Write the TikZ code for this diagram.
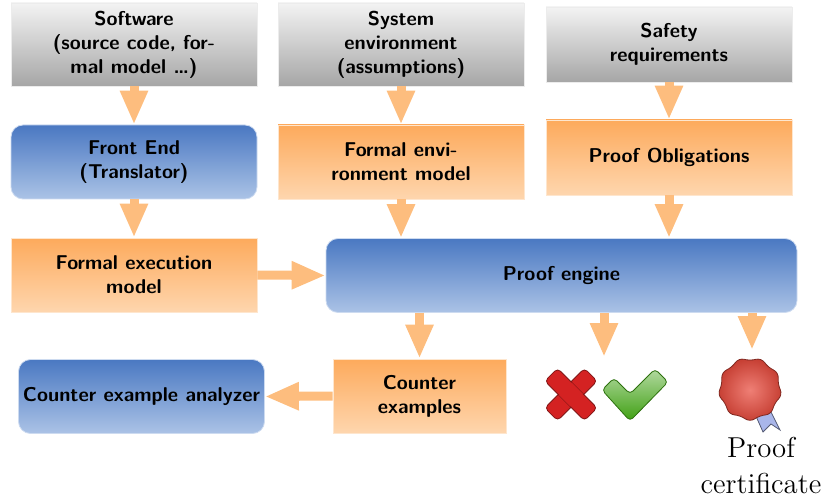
\documentclass[tikz,border=0pt]{standalone}
\usepackage{tikz}
\usetikzlibrary{arrows.meta, shapes.geometric}

\definecolor{graytop}{HTML}{F3F3F3}
\definecolor{graybot}{HTML}{A6A6A6}
\definecolor{orangetop}{HTML}{FDAA5C}
\definecolor{orangebot}{HTML}{FED6AE}
\definecolor{bluetop}{HTML}{4A78C2}
\definecolor{bluebot}{HTML}{ABC3E6}
\definecolor{flowc}{HTML}{FDBD7E}
\definecolor{xred}{HTML}{D42222}
\definecolor{okgreen}{HTML}{3FA012}
\definecolor{sealred}{HTML}{E8483A}
\definecolor{ribbon}{HTML}{A9B6EA}

\begin{document}
\begin{tikzpicture}[x=0.5pt, y=-0.5pt,
    inbox/.style={draw=gray!15, top color=graytop, bottom color=graybot, font=\sffamily\bfseries, align=center, minimum width=123pt, minimum height=41.5pt, inner sep=0pt},
    model/.style={draw=orangebot!60, top color=orangetop, bottom color=orangebot, font=\sffamily\bfseries, align=center, minimum width=123pt, minimum height=37pt, inner sep=0pt},
    tool/.style={draw=bluebot!60, top color=bluetop, bottom color=bluebot, rounded corners=6pt, font=\sffamily\bfseries, align=center, minimum width=123pt, minimum height=37pt, inner sep=0pt},
    flow/.style={draw=flowc, line width=4.5pt, -{Triangle[length=17pt, width=13pt]}}]
  \useasboundingbox (0,0) rectangle (823,502);

  % Inputs
  \node[inbox] (software) at (134,44.5) {Software\\(source code, for-\\mal model \dots)};
  \node[inbox] (sysenv) at (401,44.5) {System\\environment\\(assumptions)};
  \node[inbox, minimum height=37.5pt] (safety) at (669,44.5) {Safety\\requirements};

  % Models
  \node[tool] (frontend) at (134,162) {Front End\\(Translator)};
  \node[model] (envmodel) at (401,162) {Formal envi-\\ronment model};
  \node[model, minimum height=37.5pt] (obligations) at (669,157.5) {Proof Obligations};
  \node[model] (execmodel) at (134,275) {Formal execution\\model};
  \node[tool, minimum width=235.5pt] (engine) at (561.5,275.5) {Proof engine};

  % Outputs
  \node[model, minimum width=86.5pt] (cexamples) at (419.5,396) {Counter\\examples};
  \node[tool] (analyzer) at (141.5,396.5) {Counter example analyzer};

  % Verdict icons
  \coordinate (verdict) at (604,357);
  \begin{scope}[shift={(571,394.5)}]
    \filldraw[fill=xred, draw=xred!60!black, rounded corners=2pt, rotate=45] (-28,-9) rectangle (28,9);
    \filldraw[fill=xred, draw=xred!60!black, rounded corners=2pt, rotate=-45] (-28,-9) rectangle (28,9);
    \fill[xred, rotate=45] (-9,-8) rectangle (9,8);
  \end{scope}
  \path[draw=okgreen!70!black, top color=okgreen!40!white, bottom color=okgreen, rounded corners=2pt]
    (602,390) -- (614,378) -- (630,394) -- (655,369) -- (668,382) -- (630,421) -- cycle;

  % Certificate
  \coordinate (cert) at (752,350);
  \filldraw[fill=ribbon, draw=ribbon!50!black, line width=0.4pt]
    (746,404) -- (768,406) -- (780,430) -- (771,424) -- (763,432) -- (755,414) -- cycle;
  \node[star, star points=9, star point ratio=0.84, minimum size=28pt, inner sep=0pt, rounded corners=3pt,
    draw=sealred!55!black, inner color=sealred!70!white, outer color=sealred!85!black] (seal) at (750,389) {};
  \node[font=\Large, align=center, inner sep=0pt] (certtext) at (761,466) {Proof\\certificate};

  % Arrows
  \foreach \a/\b in {software/frontend, sysenv/envmodel, safety/obligations, frontend/execmodel}
    \draw[flow] (\a.south) -- (\b.north);
  \foreach \a in {envmodel, obligations}
    \draw[flow] (\a.south) -- (\a.south |- engine.north);
  \draw[flow] (execmodel.east) -- (engine.west);
  \draw[flow] (cexamples.north |- engine.south) -- (cexamples.north);
  \draw[flow] (verdict |- engine.south) -- (verdict);
  \draw[flow] (cert |- engine.south) -- (cert);
  \draw[flow] (cexamples.west) -- (analyzer.east);
\end{tikzpicture}
\end{document}
